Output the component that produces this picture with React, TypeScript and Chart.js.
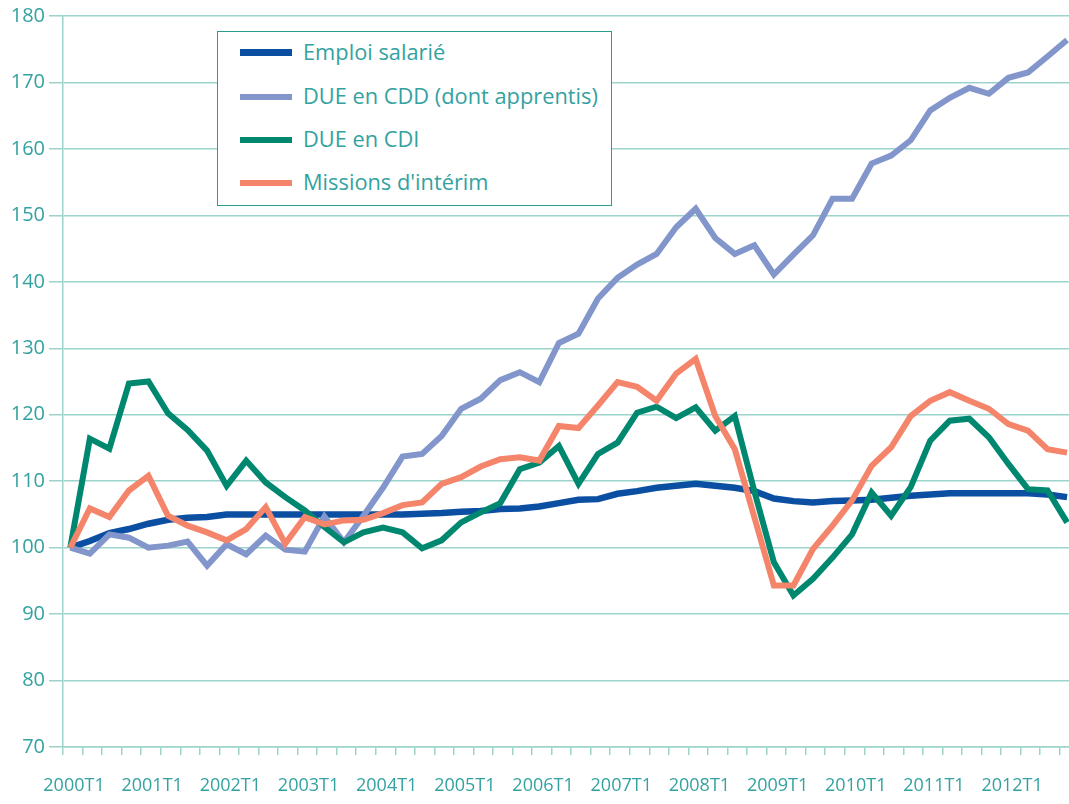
import React, { useEffect, useRef } from "react";
import { Chart, registerables } from "chart.js";

Chart.register(...registerables);

const years = [2000, 2001, 2002, 2003, 2004, 2005, 2006, 2007, 2008, 2009, 2010, 2011, 2012];
const quarterNames = ["T1", "T2", "T3", "T4"];
const quarters: string[] = years.flatMap((y) => quarterNames.map((q) => `${y}${q}`));

const seriesNames = ["Emploi salarié", "DUE en CDD (dont apprentis)", "DUE en CDI", "Missions d'intérim"];
const seriesColors = ["#0b4fa2", "#8396cc", "#00876f", "#f4856a"];

const emploiSalarie = [
  100, 101.0, 102.2, 102.8, 103.6, 104.2, 104.5, 104.6, 105.0, 105.0, 105.0, 105.0, 105.0,
  105.0, 105.0, 105.0, 105.0, 105.0, 105.1, 105.2, 105.4, 105.5, 105.8, 105.9, 106.2, 106.7,
  107.2, 107.3, 108.1, 108.5, 109.0, 109.3, 109.6, 109.3, 109.0, 108.5, 107.4, 107.0, 106.8,
  107.0, 107.1, 107.2, 107.5, 107.8, 108.0, 108.2, 108.2, 108.2, 108.2, 108.2, 108.0, 107.6,
];
const dueCdd = [
  100, 99.1, 102.0, 101.5, 100.0, 100.3, 100.9, 97.3, 100.5, 99.0, 101.8, 99.7, 99.4,
  104.7, 100.8, 104.8, 109.0, 113.7, 114.1, 116.8, 120.9, 122.4, 125.2, 126.4, 124.9, 130.8,
  132.2, 137.5, 140.6, 142.6, 144.2, 148.2, 151.0, 146.6, 144.2, 145.5, 141.1, 144.1, 147.0,
  152.5, 152.5, 157.8, 159.0, 161.3, 165.8, 167.7, 169.2, 168.3, 170.7, 171.5, 173.9, 176.4,
];
const dueCdi = [
  100, 116.4, 114.9, 124.7, 125.0, 120.2, 117.7, 114.6, 109.3, 113.1, 109.8, 107.6, 105.6,
  103.1, 100.8, 102.3, 103.0, 102.3, 99.9, 101.1, 103.8, 105.3, 106.7, 111.8, 112.8, 115.3,
  109.6, 114.1, 115.8, 120.3, 121.2, 119.5, 121.1, 117.6, 119.8, 108.5, 97.8, 92.8, 95.3,
  98.5, 102.0, 108.3, 104.8, 109.1, 116.1, 119.1, 119.4, 116.6, 112.6, 108.8, 108.6, 103.8,
];
const missionsInterim = [
  100, 105.9, 104.6, 108.6, 110.8, 104.8, 103.3, 102.3, 101.1, 102.8, 106.1, 100.6, 104.6,
  103.5, 104.1, 104.2, 105.2, 106.4, 106.8, 109.6, 110.6, 112.2, 113.3, 113.6, 113.1, 118.3,
  118.0, 121.4, 124.9, 124.2, 122.1, 126.2, 128.4, 119.8, 114.8, 104.6, 94.3, 94.3, 99.8,
  103.3, 107.1, 112.3, 115.1, 119.8, 122.1, 123.4, 122.1, 120.9, 118.6, 117.6, 114.8, 114.3,
];

const yTickValues = [70, 80, 90, 100, 110, 120, 130, 140, 150, 160, 170, 180];

const allSeries = [emploiSalarie, dueCdd, dueCdi, missionsInterim];

const TEAL_TEXT = "#33a2a0";
const GRID = "#9cd3cb";
const FONT = "'Open Sans', 'Noto Sans', sans-serif";

const X_MIN = -0.373;
const X_MAX = 51.1;

export default function App() {
  const canvasRef = useRef<HTMLCanvasElement | null>(null);

  useEffect(() => {
    const canvas = canvasRef.current;
    if (!canvas) return;
    const chart = new Chart(canvas, {
      type: "line",
      data: {
        datasets: allSeries.map((vals, si) => ({
          label: seriesNames[si],
          data: vals.map((v, i) => ({ x: i, y: v })),
          borderColor: seriesColors[si],
          backgroundColor: seriesColors[si],
          borderWidth: si === 0 ? 6.5 : 6,
          pointRadius: 0,
          tension: 0,
          borderJoinStyle: "miter" as const,
          borderCapStyle: "butt" as const,
          order: 4 - si,
        })),
      },
      options: {
        animation: false,
        responsive: false,
        layout: { padding: { top: 15, left: 0, right: 0, bottom: 0 } },
        plugins: { legend: { display: false }, tooltip: { enabled: false } },
        scales: {
          x: {
            type: "linear",
            min: X_MIN,
            max: X_MAX,
            afterBuildTicks: (scale: any) => {
              const ticks = [];
              for (let k = 0; k < quarters.length; k++) ticks.push({ value: X_MIN + k });
              scale.ticks = ticks;
            },
            afterFit: (scale: any) => {
              scale.height = 57;
              scale.paddingLeft = 0;
              scale.paddingRight = 0;
            },
            grid: {
              drawOnChartArea: false,
              drawTicks: true,
              tickLength: 8,
              color: GRID,
              lineWidth: 1.5,
            },
            border: { display: true, color: GRID, width: 1.5 },
            ticks: {
              autoSkip: false,
              maxRotation: 0,
              minRotation: 0,
              padding: 20,
              labelOffset: 11,
              color: TEAL_TEXT,
              font: { family: FONT, size: 18 },
              callback: (value: any) => {
                const k = Math.round(Number(value) - X_MIN);
                return k % 4 === 0 ? quarters[k] : "";
              },
            },
          },
          y: {
            min: 70,
            max: 180,
            afterBuildTicks: (scale: any) => {
              scale.ticks = yTickValues.map((v) => ({ value: v }));
            },
            afterFit: (scale: any) => {
              scale.width = 63;
            },
            grid: {
              color: GRID,
              lineWidth: 1.5,
              tickLength: 14,
              drawTicks: true,
            },
            border: { display: true, color: GRID, width: 1.5 },
            ticks: {
              padding: 4,
              color: TEAL_TEXT,
              font: { family: FONT, size: 20 },
            },
          },
        },
      },
    });
    return () => chart.destroy();
  }, []);

  const rowCenters = [20.7, 65, 108.3, 151.3];

  return (
    <div style={{ position: "fixed", left: 0, top: 0, width: 1069, height: 804, background: "#fff", overflow: "hidden" }}>
      <canvas ref={canvasRef} width={1069} height={804} style={{ position: "absolute", left: 0, top: 0 }} />
      <div
        style={{
          position: "absolute",
          left: 217,
          top: 31,
          width: 395,
          height: 175,
          boxSizing: "border-box",
          border: "1.5px solid #2a9d8c",
          background: "#fff",
          fontFamily: FONT,
        }}
      >
        {seriesNames.map((name, i) => (
          <React.Fragment key={name}>
            <div
              style={{
                position: "absolute",
                left: 22,
                top: rowCenters[i] - 3.5,
                width: 52,
                height: 6.5,
                background: seriesColors[i],
              }}
            />
            <div
              style={{
                position: "absolute",
                left: 85,
                top: rowCenters[i] - 16,
                height: 30,
                lineHeight: "30px",
                fontSize: 21.8,
                color: TEAL_TEXT,
                whiteSpace: "nowrap",
              }}
            >
              {name}
            </div>
          </React.Fragment>
        ))}
      </div>
    </div>
  );
}
